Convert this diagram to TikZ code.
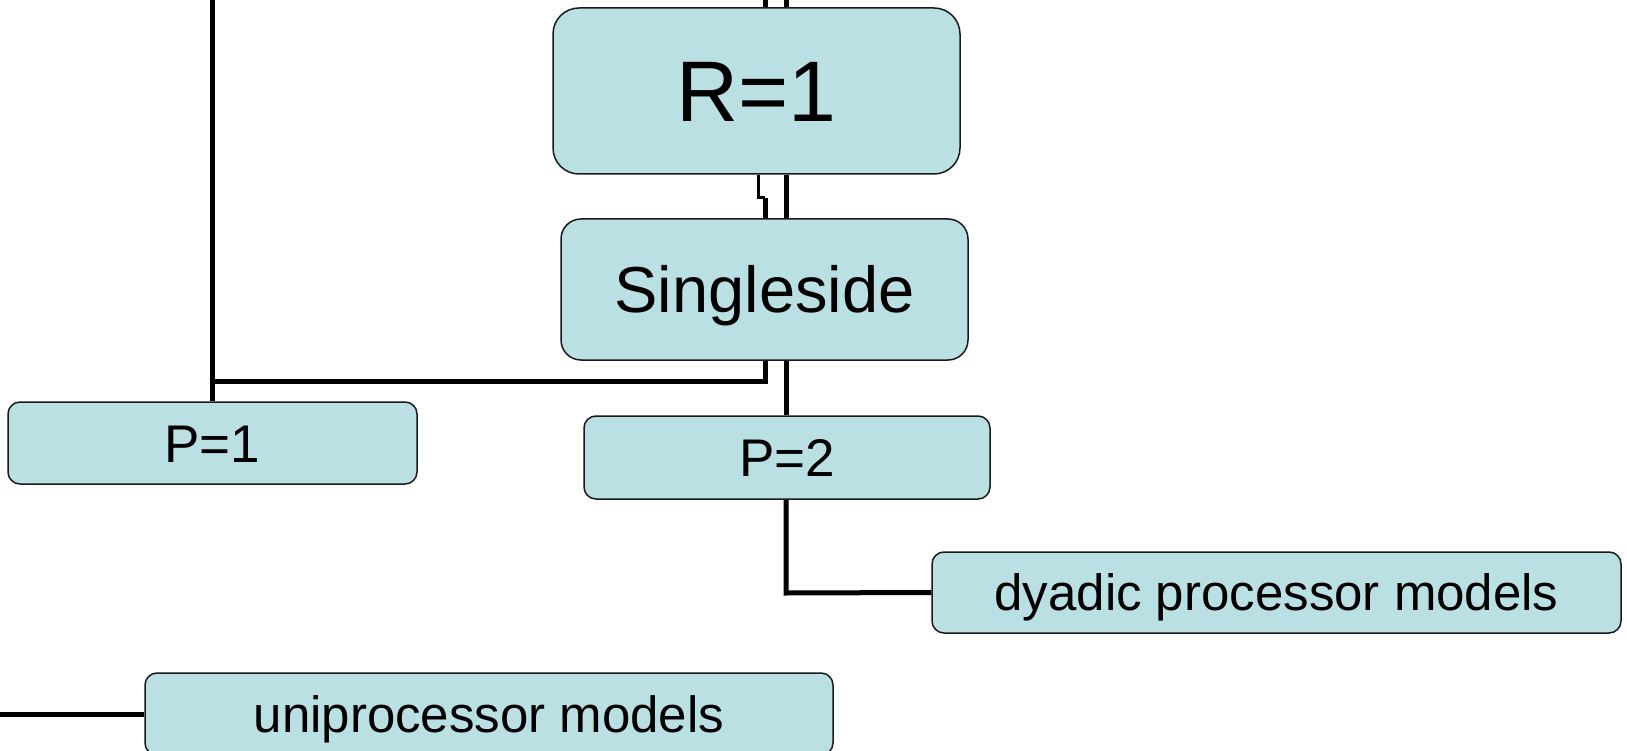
\documentclass[tikz,border=0pt]{standalone}
\usepackage{fontspec}
\setmainfont{Liberation Sans}
\definecolor{boxfill}{HTML}{BBE0E3}
\definecolor{boxline}{HTML}{1A1A1A}
\begin{document}
\begin{tikzpicture}[x=1pt,y=-1pt,
  box/.style={draw=boxline,fill=boxfill,line width=1.5pt,rectangle,inner sep=0pt,text=black,text depth=0pt},
  conn/.style={draw=black,line width=5pt,line cap=butt,line join=miter},
  notchline/.style={draw=black,line width=3pt,line join=miter}]
\useasboundingbox (0,0) rectangle (1627,751);
\fill[white] (0,0) rectangle (1627,751);
% free ends at the top / left border
\coordinate (t212) at (212,0);
\coordinate (t765) at (765,0);
\coordinate (t786) at (786,0);
\coordinate (l714) at (0,714);
\coordinate (k765) at (765,381);
\coordinate (k212) at (212,381);
\coordinate (k786) at (786,593);
\coordinate (n1) at (758,175);
\coordinate (n2) at (758,198);
\coordinate (n3) at (765,198);
% nodes
\node[box,font=\fontsize{86}{86}\selectfont,text height=61.6pt,rounded corners=26pt,minimum width=407pt,minimum height=166pt] (R1) at (756.5,91) {R=1};
\node[box,font=\fontsize{65}{65}\selectfont,text height=46.5pt,rounded corners=20pt,minimum width=407pt,minimum height=141pt] (S) at (764.5,289.5) {Singleside};
\node[box,font=\fontsize{53}{53}\selectfont,text height=38pt,rounded corners=12pt,minimum width=409pt,minimum height=82pt] (P1) at (212.5,443) {P=1};
\node[box,font=\fontsize{53}{53}\selectfont,text height=38pt,rounded corners=12pt,minimum width=406pt,minimum height=83pt] (P2) at (787,457.5) {P=2};
\node[box,font=\fontsize{51}{51}\selectfont,text height=36.5pt,rounded corners=12pt,minimum width=689pt,minimum height=81pt] (D) at (1276.5,592.5) {dyadic processor models};
\node[box,font=\fontsize{51}{51}\selectfont,text height=36.5pt,rounded corners=12pt,minimum width=688pt,minimum height=82pt] (U) at (489,714) {uniprocessor models};
% connectors
\draw[conn] (t212) -- (t212 |- P1.north);
\draw[conn] (t765) -- (t765 |- R1.north);
\draw[conn] (t786) -- (t786 |- R1.north);
\draw[conn] (n3) -- (t765 |- S.north);
\draw[notchline] (n1 -| R1.south) ++(1.5,0) -- (n2) -- (n3);
\draw[conn] (t786 |- R1.south) -- (t786 |- S.north);
\draw[conn] (t765 |- S.south) -- (k765) -- (k212);
\draw[conn] (t786 |- S.south) -- (t786 |- P2.north);
\draw[conn] (t786 |- P2.south) -- (k786) -- (D.west);
\draw[conn] (l714) -- (U.west);
\end{tikzpicture}
\end{document}
